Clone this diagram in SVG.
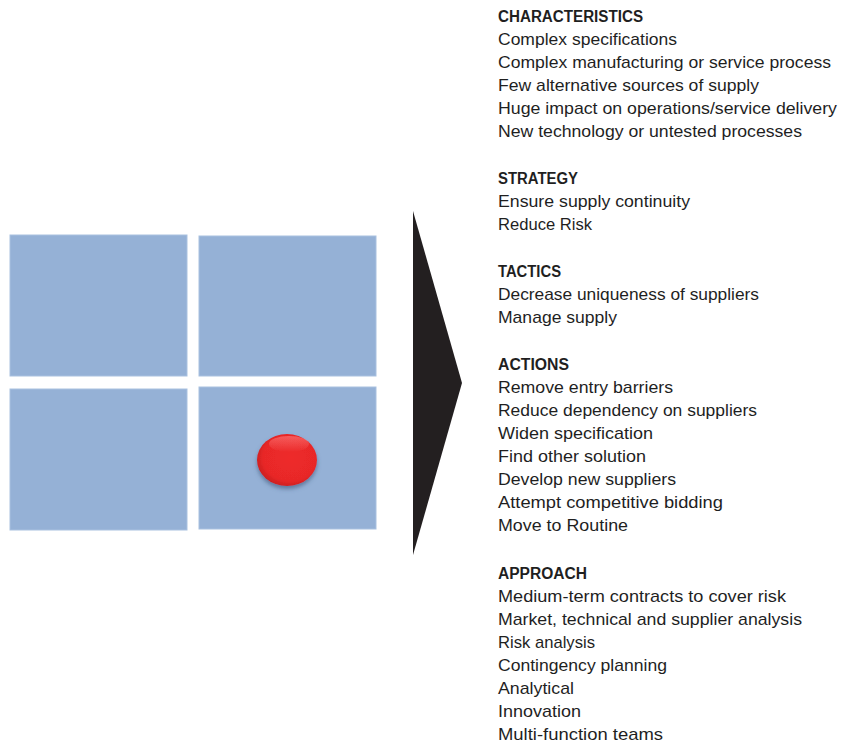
<svg xmlns="http://www.w3.org/2000/svg" width="842" height="747" viewBox="0 0 842 747">
<defs>
<style>
.q{fill:#95b1d6;stroke:#a9c1e0;stroke-width:1}
.t{font-family:"Liberation Sans",Arial,sans-serif;font-size:17px;fill:#1f1f1f}
.h{font-weight:bold;font-size:16px}
</style>
<radialGradient id="rg" cx="0.55" cy="0.45" r="0.6">
<stop offset="0" stop-color="#ee2a2a"/>
<stop offset="0.75" stop-color="#e82828"/>
<stop offset="1" stop-color="#c41c1c"/>
</radialGradient>
<linearGradient id="hl" x1="0" y1="0" x2="0" y2="1">
<stop offset="0" stop-color="#ff8080" stop-opacity="0.6"/>
<stop offset="1" stop-color="#ff8080" stop-opacity="0"/>
</linearGradient>
<filter id="sh" x="-30%" y="-30%" width="160%" height="170%">
<feDropShadow dx="0" dy="3" stdDeviation="2" flood-color="#3a5275" flood-opacity="0.6"/>
</filter>
</defs>
<rect width="842" height="747" fill="#ffffff"/>
<g id="matrix">
<rect id="q-tl" class="q" x="10" y="235" width="177" height="141"/>
<rect id="q-tr" class="q" x="199" y="236" width="177" height="140"/>
<rect id="q-bl" class="q" x="10" y="389" width="177" height="141"/>
<rect id="q-br" class="q" x="199" y="387" width="177" height="142"/>
</g>
<g id="marker-dot">
<ellipse cx="287" cy="460" rx="30" ry="26" fill="url(#rg)" filter="url(#sh)"/>
<ellipse cx="289" cy="444" rx="20" ry="8" fill="url(#hl)"/>
</g>
<g id="connectors">
<polygon id="arrow" points="413,211 462,383 413,555" fill="#231f20"/>
</g>
<g id="text" class="t">
<text x="498" y="22" class="h" textLength="145" lengthAdjust="spacingAndGlyphs">CHARACTERISTICS</text>
<text x="498" y="45" textLength="179" lengthAdjust="spacingAndGlyphs">Complex specifications</text>
<text x="498" y="68" textLength="333" lengthAdjust="spacingAndGlyphs">Complex manufacturing or service process</text>
<text x="498" y="91" textLength="261" lengthAdjust="spacingAndGlyphs">Few alternative sources of supply</text>
<text x="498" y="114" textLength="339" lengthAdjust="spacingAndGlyphs">Huge impact on operations/service delivery</text>
<text x="498" y="137" textLength="304" lengthAdjust="spacingAndGlyphs">New technology or untested processes</text>

<text x="498" y="184" class="h" textLength="80" lengthAdjust="spacingAndGlyphs">STRATEGY</text>
<text x="498" y="207" textLength="192" lengthAdjust="spacingAndGlyphs">Ensure supply continuity</text>
<text x="498" y="230" textLength="94" lengthAdjust="spacingAndGlyphs">Reduce Risk</text>

<text x="498" y="277" class="h" textLength="63" lengthAdjust="spacingAndGlyphs">TACTICS</text>
<text x="498" y="300" textLength="261" lengthAdjust="spacingAndGlyphs">Decrease uniqueness of suppliers</text>
<text x="498" y="323" textLength="119" lengthAdjust="spacingAndGlyphs">Manage supply</text>

<text x="498" y="370" class="h" textLength="71" lengthAdjust="spacingAndGlyphs">ACTIONS</text>
<text x="498" y="393" textLength="175" lengthAdjust="spacingAndGlyphs">Remove entry barriers</text>
<text x="498" y="416" textLength="259" lengthAdjust="spacingAndGlyphs">Reduce dependency on suppliers</text>
<text x="498" y="439" textLength="155" lengthAdjust="spacingAndGlyphs">Widen specification</text>
<text x="498" y="462" textLength="148" lengthAdjust="spacingAndGlyphs">Find other solution</text>
<text x="498" y="485" textLength="178" lengthAdjust="spacingAndGlyphs">Develop new suppliers</text>
<text x="498" y="508" textLength="225" lengthAdjust="spacingAndGlyphs">Attempt competitive bidding</text>
<text x="498" y="531" textLength="130" lengthAdjust="spacingAndGlyphs">Move to Routine</text>

<text x="498" y="579" class="h" textLength="89" lengthAdjust="spacingAndGlyphs">APPROACH</text>
<text x="498" y="602" textLength="288" lengthAdjust="spacingAndGlyphs">Medium-term contracts to cover risk</text>
<text x="498" y="625" textLength="304" lengthAdjust="spacingAndGlyphs">Market, technical and supplier analysis</text>
<text x="498" y="648" textLength="97" lengthAdjust="spacingAndGlyphs">Risk analysis</text>
<text x="498" y="671" textLength="169" lengthAdjust="spacingAndGlyphs">Contingency planning</text>
<text x="498" y="694" textLength="76" lengthAdjust="spacingAndGlyphs">Analytical</text>
<text x="498" y="717" textLength="83" lengthAdjust="spacingAndGlyphs">Innovation</text>
<text x="498" y="740" textLength="165" lengthAdjust="spacingAndGlyphs">Multi-function teams</text>
</g>
</svg>
